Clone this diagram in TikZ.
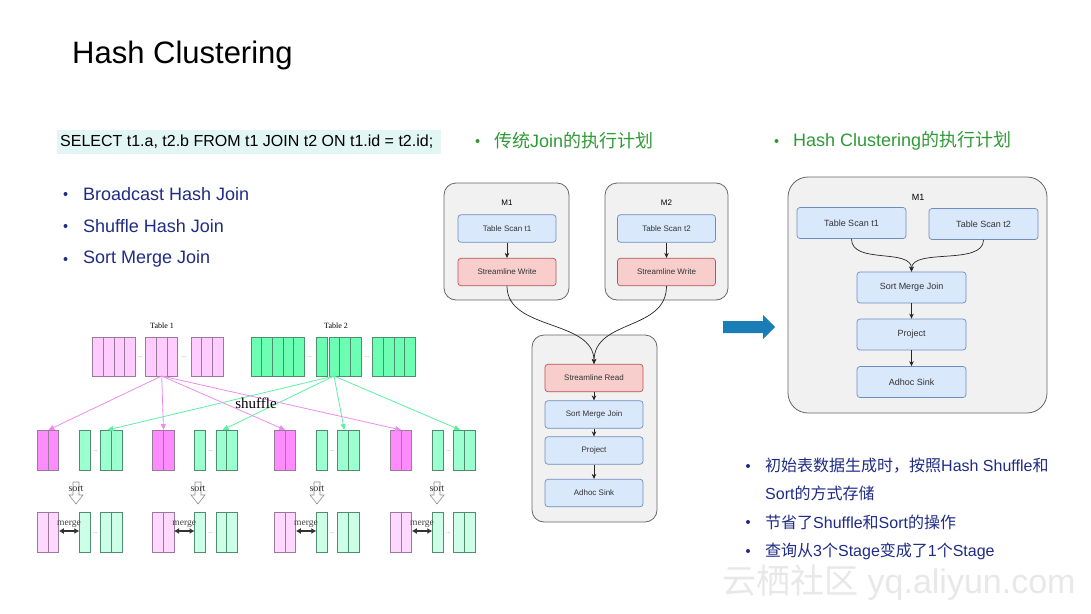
\documentclass[tikz,border=0pt]{standalone}
\usepackage{fontspec}
\setmainfont{Liberation Sans}
\newfontfamily\cjk{Noto Sans CJK SC}
\newfontfamily\tms{Liberation Serif}
\usetikzlibrary{arrows.meta, positioning}
\definecolor{navy}{HTML}{1F2B85}
\definecolor{hgreen}{HTML}{2E9A35}
\definecolor{sqlbg}{HTML}{E2F7F3}
\definecolor{opfill}{HTML}{DAE8FC}
\definecolor{opline}{HTML}{6C8EBF}
\definecolor{iofill}{HTML}{F8CECC}
\definecolor{ioline}{HTML}{B85450}
\definecolor{planfill}{HTML}{F1F1F1}
\definecolor{bigarrow}{HTML}{1A7DB6}
\definecolor{t1fill}{HTML}{FFCCFF}
\definecolor{t1line}{HTML}{9A7A9A}
\definecolor{t2fill}{HTML}{6CFFB4}
\definecolor{t2line}{HTML}{4E8E6E}
\definecolor{magfill}{HTML}{FF8CFF}
\definecolor{grnfill}{HTML}{9CFFCF}
\definecolor{pinklite}{HTML}{FFD8FF}
\definecolor{grnlite}{HTML}{CDFFE8}
\definecolor{pinkarr}{HTML}{EE8CEE}
\definecolor{grnarr}{HTML}{5DEFA5}
\newcommand\fsz[1]{\fontsize{#1}{#1}\selectfont}

\tikzset{
  plan/.style={draw=black!60, fill=planfill, line width=0.8pt, rounded corners=12pt},
  op/.style={draw=opline, fill=opfill, line width=0.7pt, rounded corners=3pt,
    minimum width=98pt, minimum height=27.5pt, font=\fsz{8}, text=black!80},
  io/.style={op, draw=ioline, fill=iofill},
  bigop/.style={op, minimum width=109pt, minimum height=31pt, font=\fsz{9}},
  flow/.style={-{Stealth[length=5pt,width=4.5pt]}, black!85, line width=0.7pt},
  tA/.style={fill=t1fill, draw=t1line, line width=0.6pt},
  tB/.style={fill=t2fill, draw=t2line, line width=0.6pt},
  mag/.style={fill=magfill, draw=t1line, line width=0.6pt},
  grn/.style={fill=grnfill, draw=t2line, line width=0.6pt},
  pinkL/.style={fill=pinklite, draw=t1line, line width=0.6pt},
  grnL/.style={fill=grnlite, draw=t2line, line width=0.6pt},
  parr/.style={-{Triangle[length=6pt,width=5pt]}, pinkarr, line width=0.8pt},
  garr/.style={-{Triangle[length=6pt,width=5pt]}, grnarr, line width=0.8pt},
  dots/.style={font=\tms\fsz{6}, text=black!50, inner sep=0},
  txt/.style={anchor=west, inner sep=0},
  dot/.style={circle, inner sep=0, minimum size=4pt}
}

\begin{document}
\begin{tikzpicture}[x=1pt, y=-1pt]
\useasboundingbox (0,0) rectangle (1091,613);

\node[anchor=base west, inner sep=0, font=\fsz{31}] (title) at (72,63) {Hash Clustering};

\node[fill=sqlbg, minimum width=384pt, minimum height=24pt, anchor=west, inner sep=0] (sqlbox) at (57,142) {};
\node[txt, font=\fsz{16}] (sql) at (60,142) {SELECT t1.a, t2.b FROM t1 JOIN t2 ON t1.id = t2.id;};

\foreach \y/\t [count=\i] in {194/Broadcast Hash Join, 226/Shuffle Hash Join, 259/Sort Merge Join}{
  \node[dot, fill=navy] (bd\i) at (65.5,\y) {};
  \node[txt, font=\fsz{18}, text=navy] (b\i) at (83,\y) {\t};
}

\node[dot, fill=hgreen] (hd1) at (477.5,141) {};
\node[txt, font=\fsz{18}, text=hgreen] (h1) at (494,141) {{\cjk 传统}Join{\cjk 的执行计划}};
\node[dot, fill=hgreen] (hd2) at (776.5,141) {};
\node[txt, font=\fsz{18}, text=hgreen] (h2) at (793,141) {Hash Clustering{\cjk 的执行计划}};

% traditional join plan
\draw[plan] (444,183) rectangle (569,300);
\draw[plan] (605,183) rectangle (728,300);
\draw[plan] (532,335) rectangle (657,522);
\node[font=\fsz{8}] (m1) at (507,203) {M1};
\node[op] (ts1) at (507,228.5) {Table Scan t1};
\node[io] (sw1) at (507,272) {Streamline Write};
\node[font=\fsz{8}] (m2) at (666.5,203) {M2};
\node[op] (ts2) at (666.5,228.5) {Table Scan t2};
\node[io] (sw2) at (666.5,272) {Streamline Write};
\node[io] (sr) at (594,378) {Streamline Read};
\node[op] (smj) at (594,414.5) {Sort Merge Join};
\node[op] (prj) at (594,450.5) {Project};
\node[op] (sink) at (594,493) {Adhoc Sink};
\draw[flow] (ts1) -- (sw1);
\draw[flow] (ts2) -- (sw2);
\draw[flow] (sw1.south) .. controls +(0,45) and +(0,-45) .. (sr.north);
\draw[flow] (sw2.south) .. controls +(0,45) and +(0,-45) .. (sr.north);
\draw[flow] (sr) -- (smj);
\draw[flow] (smj) -- (prj);
\draw[flow] (prj) -- (sink);

\fill[bigarrow] (723,321) -- (763,321) -- (763,315) -- (775,327) -- (763,339) -- (763,333) -- (723,333) -- cycle;

% hash clustering plan
\draw[plan, rounded corners=20pt] (788,177) rectangle (1047,413);
\node[font=\fsz{9}] (rm1) at (918,197) {M1};
\node[bigop] (rts1) at (851.5,223) {Table Scan t1};
\node[bigop] (rts2) at (983.5,224) {Table Scan t2};
\node[bigop] (rsmj) at (911.5,287.5) {Sort Merge Join};
\node[bigop] (rprj) at (911.5,334.5) {Project};
\node[bigop] (rsink) at (911.5,382) {Adhoc Sink};
\draw[flow] (rts1.south) .. controls +(0,26) and +(0,-24) .. (rsmj.north);
\draw[flow] (rts2.south) .. controls +(0,26) and +(0,-24) .. (rsmj.north);
\draw[flow] (rsmj) -- (rprj);
\draw[flow] (rprj) -- (rsink);

% shuffle / sort / merge sketch
\node[font=\tms\fsz{8}] (tab1) at (162,326) {Table 1};
\node[font=\tms\fsz{8}] (tab2) at (336,326) {Table 2};
\foreach \x/\n in {92.7/4, 145.7/3, 191/3}
  \foreach \k in {1,...,\n}
    \draw[tA] ({\x+(\k-1)*10.6},337) rectangle ++(10.6,39);
\draw[tB] (316.7,337) rectangle ++(10.6,39);
\foreach \x/\n in {251/5, 329/3, 372.7/4}
  \foreach \k in {1,...,\n}
    \draw[tB] ({\x+(\k-1)*10.6},337) rectangle ++(10.6,39);
\node[dots] (dt1) at (140.5,357) {...};
\node[dots] (dt2) at (184,357) {...};
\node[dots] (dt3) at (309.5,357) {...};
\node[dots] (dt4) at (367,357) {...};
\coordinate (src1) at (161.7,376);
\coordinate (src2) at (334,376);

\foreach \b [count=\i] in {37.3, 152.5, 274.3, 390.3}{
  \foreach \k in {0,1}{
    \draw[mag] ({\b+\k*10.7},430) rectangle ++(10.7,40);
    \draw[grn] ({\b+63.3+\k*10.7},430) rectangle ++(10.7,40);
    \draw[pinkL] ({\b+\k*10.7},512) rectangle ++(10.7,40);
    \draw[grnL] ({\b+63.3+\k*10.7},512) rectangle ++(10.7,40);
  }
  \draw[grn] ({\b+42},430) rectangle ++(10.7,40);
  \draw[grnL] ({\b+42},512) rectangle ++(10.7,40);
  \node[dots] (da\i) at ({\b+58},451) {...};
  \node[dots] (db\i) at ({\b+58},533) {...};
  \coordinate (mg\i) at ({\b+11},430);
  \coordinate (gr\i) at ({\b+70},430);
  \coordinate (ml\i) at ({\b+21.5},531);
  \coordinate (mr\i) at ({\b+42},531);
  \draw[{Latex[length=5pt,width=6pt]}-{Latex[length=5pt,width=6pt]}, line width=1.3pt, black!80] (ml\i) -- (mr\i);
  \node[font=\tms\fsz{9.5}, text=black!75, inner sep=0] (mrg\i) at ({\b+31.7},524.5) {merge};
}
\foreach \s [count=\i] in {76, 198, 317, 437}{
  \draw[black!45, fill=white, line width=0.6pt] ({\s-3},482) -- ({\s+3},482) -- ({\s+3},495) -- ({\s+7},495)
    -- (\s,504) -- ({\s-7},495) -- ({\s-3},495) -- cycle;
  \node[font=\tms\fsz{10}, text=black!80, inner sep=0] (srt\i) at (\s,489) {sort};
}
\foreach \i in {1,...,4}{
  \draw[parr] (src1) -- (mg\i);
  \draw[garr] (src2) -- (gr\i);
}
\node[font=\tms\fsz{15}] (shuf) at (256,403) {shuffle};

% notes
\foreach \y [count=\i] in {466, 522, 551}
  \node[dot, fill=navy] (nd\i) at (748,\y) {};
\node[txt, font=\fsz{16}, text=navy] (n1) at (765,466) {{\cjk 初始表数据生成时，按照}Hash Shuffle{\cjk 和}};
\node[txt, font=\fsz{16}, text=navy] (n2) at (765,493) {Sort{\cjk 的方式存储}};
\node[txt, font=\fsz{16}, text=navy] (n3) at (765,522) {{\cjk 节省了}Shuffle{\cjk 和}Sort{\cjk 的操作}};
\node[txt, font=\fsz{16}, text=navy] (n4) at (765,551) {{\cjk 查询从}3{\cjk 个}Stage{\cjk 变成了}1{\cjk 个}Stage};

\node[txt, font=\fsz{34}, text=black!9] (wm) at (722,583) {{\cjk 云栖社区} yq.aliyun.com};
\end{tikzpicture}
\end{document}
